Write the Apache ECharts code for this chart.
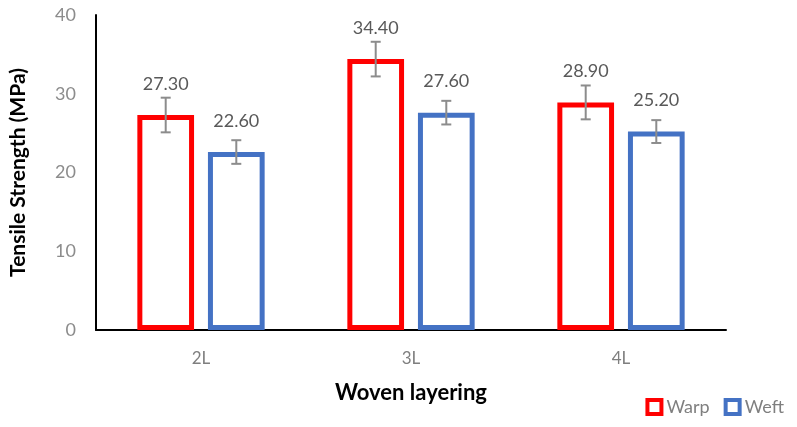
<!DOCTYPE html>
<html>
<head>
<meta charset="UTF-8"/>
<script src="https://cdn.jsdelivr.net/npm/echarts@6/dist/echarts.min.js"></script>
<style>html,body{margin:0;background:#fff}#c{width:797px;height:427px}</style>
</head>
<body>
<div id="c"></div>
<script>
// values
const categories = ["2L", "3L", "4L"];
const warp = [27.3, 34.4, 28.9];
const weft = [22.6, 27.6, 25.2];
const warpErr = [2.2, 2.2, 2.15];
const weftErr = [1.5, 1.5, 1.45];
const yTicks = { min: 0, max: 40, interval: 10 };

const FONT = "Lato";
const BAR_W = 0.27, GAP = 0.245;

function errData(vals, errs) {
    return vals.map((v, i) => [i, v - errs[i], v + errs[i]]);
}

function errSeries(vals, errs, side) {
    return {
        type: "custom",
        silent: true,
        z: 5,
        data: errData(vals, errs),
        encode: { x: 0, y: [1, 2] },
        renderItem: (params, api) => {
            const band = api.size([1, 0])[0];
            const bw = band * BAR_W;
            const off = side * (bw + bw * GAP) / 2;
            const lo = api.coord([api.value(0), api.value(1)]);
            const hi = api.coord([api.value(0), api.value(2)]);
            const x = lo[0] + off, cap = 5;
            const st = { stroke: "#8c8c8c", lineWidth: 2 };
            return {
                type: "group",
                children: [
                    { type: "line", shape: { x1: x, y1: lo[1], x2: x, y2: hi[1] }, style: st },
                    { type: "line", shape: { x1: x - cap, y1: lo[1], x2: x + cap, y2: lo[1] }, style: st },
                    { type: "line", shape: { x1: x - cap, y1: hi[1], x2: x + cap, y2: hi[1] }, style: st }
                ]
            };
        }
    };
}

const lbl = {
    show: true,
    position: "top",
    distance: 22,
    color: "#595959",
    fontFamily: FONT,
    fontSize: 18,
    formatter: p => p.value.toFixed(2)
};

const chart = echarts.init(document.getElementById("c"), null, { renderer: "canvas" });
chart.setOption({
    animation: false,
    backgroundColor: "#fff",
    grid: { left: 91, right: 71, top: 15, bottom: 97, containLabel: false },
    legend: {
        right: 8, bottom: 6,
        itemWidth: 14, itemHeight: 14, itemGap: 14,
        icon: "rect",
        textStyle: { color: "#7f7f7f", fontFamily: FONT, fontSize: 18 },
        data: [
            { name: "Warp", itemStyle: { color: "#fff", borderColor: "#ff0000", borderWidth: 4 } },
            { name: "Weft", itemStyle: { color: "#fff", borderColor: "#4472c4", borderWidth: 4 } }
        ]
    },
    xAxis: {
        type: "category",
        data: categories,
        name: "Woven layering",
        nameLocation: "middle",
        nameGap: 52,
        nameTextStyle: { color: "#000", fontWeight: "bold", fontFamily: FONT, fontSize: 22 },
        axisLine: { lineStyle: { color: "#000", width: 2 } },
        axisTick: { show: false },
        axisLabel: { color: "#7f7f7f", fontFamily: FONT, fontSize: 17, margin: 20 }
    },
    yAxis: {
        type: "value",
        min: yTicks.min, max: yTicks.max, interval: yTicks.interval,
        name: "Tensile Strength (MPa)",
        nameLocation: "middle",
        nameGap: 67,
        nameTextStyle: { color: "#000", fontWeight: "bold", fontFamily: FONT, fontSize: 21 },
        axisLine: { show: true, lineStyle: { color: "#000", width: 2 } },
        axisTick: { show: false },
        splitLine: { show: false },
        axisLabel: { color: "#8c8c8c", fontFamily: FONT, fontSize: 18, margin: 20 }
    },
    series: [
        {
            name: "Warp", type: "bar", data: warp,
            barWidth: (BAR_W * 100) + "%", barGap: (GAP * 100) + "%",
            itemStyle: { color: "#fff", borderColor: "#ff0000", borderWidth: 5 },
            label: lbl
        },
        {
            name: "Weft", type: "bar", data: weft,
            barWidth: (BAR_W * 100) + "%",
            itemStyle: { color: "#fff", borderColor: "#4472c4", borderWidth: 5 },
            label: lbl
        },
        errSeries(warp, warpErr, -1),
        errSeries(weft, weftErr, 1)
    ]
});
</script>
</body>
</html>
